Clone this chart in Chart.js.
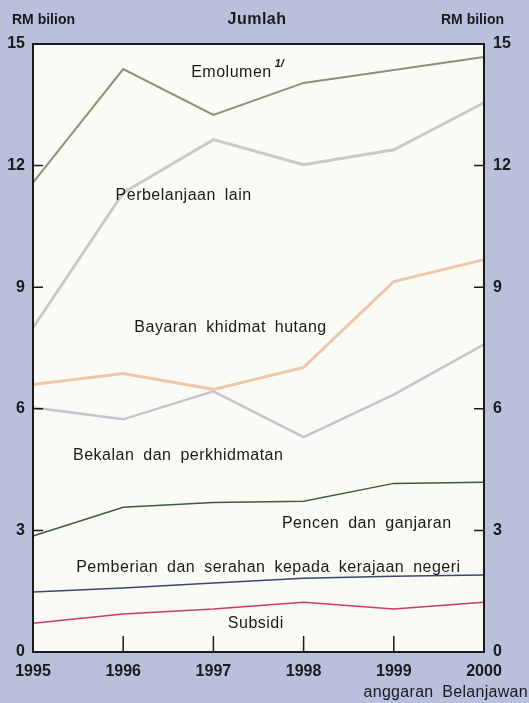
<!DOCTYPE html>
<html>
<head>
<meta charset="utf-8">
<script src="https://cdn.jsdelivr.net/npm/chart.js@4.4.1/dist/chart.umd.min.js"></script>
<style>
  html, body { margin: 0; padding: 0; background: #b8c0dc; }
  #wrap { width: 529px; height: 703px; position: relative; }
</style>
</head>
<body>
<div id="wrap"><canvas id="chartBelanja"></canvas></div>
<script>
// RM bilion, 1995-2000 (2000 = anggaran Belanjawan)
const years = ['1995', '1996', '1997', '1998', '1999', '2000'];
const emolumen = [11.58, 14.38, 13.25, 14.04, 14.36, 14.68];
const perbelanjaanLain = [8.0, 11.33, 12.64, 12.02, 12.39, 13.55];
const bayaranHutang = [6.6, 6.87, 6.48, 7.02, 9.14, 9.68];
const bekalan = [6.03, 5.74, 6.43, 5.3, 6.35, 7.59];
const pencen = [2.86, 3.57, 3.69, 3.72, 4.16, 4.19];
const pemberian = [1.48, 1.58, 1.7, 1.82, 1.87, 1.9];
const subsidi = [0.71, 0.94, 1.06, 1.23, 1.06, 1.23];
const yTicks = [0, 3, 6, 9, 12, 15];

const FONT = "'Liberation Sans', Arial, Helvetica, sans-serif";

// text labels placed in data space (year index, value)
const seriesLabels = [
  { text: 'Emolumen', x: 2.2, y: 14.3 },
  { text: 'Perbelanjaan lain', x: 1.67, y: 11.27 },
  { text: 'Bayaran khidmat hutang', x: 2.19, y: 8.0 },
  { text: 'Bekalan dan perkhidmatan', x: 1.61, y: 4.85 },
  { text: 'Pencen dan ganjaran', x: 3.7, y: 3.16 },
  { text: 'Pemberian dan serahan kepada kerajaan negeri', x: 2.61, y: 2.08 },
  { text: 'Subsidi', x: 2.47, y: 0.69 },
];

function spaced(ctx, letter, word) {
  if ('letterSpacing' in ctx) ctx.letterSpacing = letter;
  if ('wordSpacing' in ctx) ctx.wordSpacing = word;
}

const framePlugin = {
  id: 'frame',
  beforeDraw(chart) {
    const { ctx, chartArea: a } = chart;
    ctx.save();
    ctx.fillStyle = '#b8c0dc';
    ctx.fillRect(0, 0, chart.width, chart.height);
    ctx.fillStyle = '#fbfbf6';
    ctx.fillRect(a.left, a.top, a.right - a.left, a.bottom - a.top);
    ctx.restore();
  },
  afterDatasetsDraw(chart) {
    const { ctx, chartArea: a, scales } = chart;
    ctx.save();
    ctx.strokeStyle = '#1a1a1a';
    ctx.lineWidth = 2;
    ctx.strokeRect(a.left, a.top, a.right - a.left, a.bottom - a.top);

    ctx.lineWidth = 1.5;
    ctx.beginPath();
    yTicks.slice(1, -1).forEach((v) => {
      const y = scales.y.getPixelForValue(v);
      ctx.moveTo(a.left, y);
      ctx.lineTo(a.left + 10, y);
      ctx.moveTo(a.right, y);
      ctx.lineTo(a.right - 10, y);
    });
    years.slice(1, -1).forEach((_, i) => {
      const x = scales.x.getPixelForValue(i + 1);
      ctx.moveTo(x, a.bottom);
      ctx.lineTo(x, a.bottom - 16);
    });
    ctx.stroke();

    ctx.fillStyle = '#1a1a1a';
    ctx.textAlign = 'center';
    ctx.textBaseline = 'middle';
    seriesLabels.forEach((l) => {
      const x = scales.x.getPixelForValue(l.x);
      const y = scales.y.getPixelForValue(l.y);
      ctx.font = `16px ${FONT}`;
      spaced(ctx, '0.5px', '4px');
      ctx.textAlign = 'center';
      ctx.fillText(l.text, x, y);
      if (l.text === 'Emolumen') {
        const w = ctx.measureText(l.text).width;
        ctx.font = `italic bold 11px ${FONT}`;
        spaced(ctx, '0px', '0px');
        ctx.textAlign = 'left';
        ctx.fillText('1/', x + w / 2 + 3, y - 8);
      }
    });

    // header and footer texts
    spaced(ctx, '0px', '0px');
    ctx.font = `bold 14px ${FONT}`;
    ctx.textAlign = 'left';
    ctx.fillText('RM bilion', 12, 20);
    ctx.textAlign = 'right';
    ctx.fillText('RM bilion', 504, 20);
    ctx.font = `bold 16px ${FONT}`;
    spaced(ctx, '0.5px', '0px');
    ctx.textAlign = 'center';
    ctx.fillText('Jumlah', 257, 20);
    ctx.font = `16px ${FONT}`;
    spaced(ctx, '0.3px', '4px');
    ctx.textAlign = 'right';
    ctx.fillText('anggaran Belanjawan', 528, 693);
    ctx.restore();
  },
};

const line = (label, data, color, width) => ({
  label,
  data,
  borderColor: color,
  borderWidth: width,
  pointRadius: 0,
  tension: 0,
  fill: false,
});

const tickFont = { family: FONT, size: 16, weight: 'bold' };

new Chart(document.getElementById('chartBelanja').getContext('2d'), {
  type: 'line',
  data: {
    labels: years,
    datasets: [
      line('Emolumen', emolumen, '#8e9178', 2),
      line('Perbelanjaan lain', perbelanjaanLain, '#c9c9c9', 3),
      line('Bayaran khidmat hutang', bayaranHutang, '#eec6ab', 3),
      line('Bekalan dan perkhidmatan', bekalan, '#c4c4cf', 2.5),
      line('Pencen dan ganjaran', pencen, '#3e5a3d', 1.5),
      line('Pemberian dan serahan kepada kerajaan negeri', pemberian, '#3c4670', 1.5),
      line('Subsidi', subsidi, '#cc3d5c', 1.5),
    ],
  },
  options: {
    responsive: true,
    maintainAspectRatio: false,
    animation: false,
    layout: { padding: { top: 44, left: 0, right: 0, bottom: 0 } },
    plugins: { legend: { display: false }, tooltip: { enabled: false } },
    scales: {
      x: {
        type: 'category',
        offset: false,
        grid: { display: false, drawTicks: false },
        border: { display: false },
        ticks: {
          color: '#1a1a1a',
          font: tickFont,
          padding: 10,
          maxRotation: 0,
          autoSkip: false,
        },
        afterFit(scale) { scale.height = 51; },
      },
      y: {
        position: 'left',
        min: 0,
        max: 15,
        grid: { display: false, drawTicks: false },
        border: { display: false },
        afterBuildTicks(scale) { scale.ticks = yTicks.map((v) => ({ value: v })); },
        ticks: { color: '#1a1a1a', font: tickFont, padding: 8 },
        afterFit(scale) { scale.width = 33; },
      },
      y2: {
        position: 'right',
        min: 0,
        max: 15,
        grid: { display: false, drawTicks: false },
        border: { display: false },
        afterBuildTicks(scale) { scale.ticks = yTicks.map((v) => ({ value: v })); },
        ticks: { color: '#1a1a1a', font: tickFont, padding: 9 },
        afterFit(scale) { scale.width = 45; },
      },
    },
  },
  plugins: [framePlugin],
});
</script>
</body>
</html>
